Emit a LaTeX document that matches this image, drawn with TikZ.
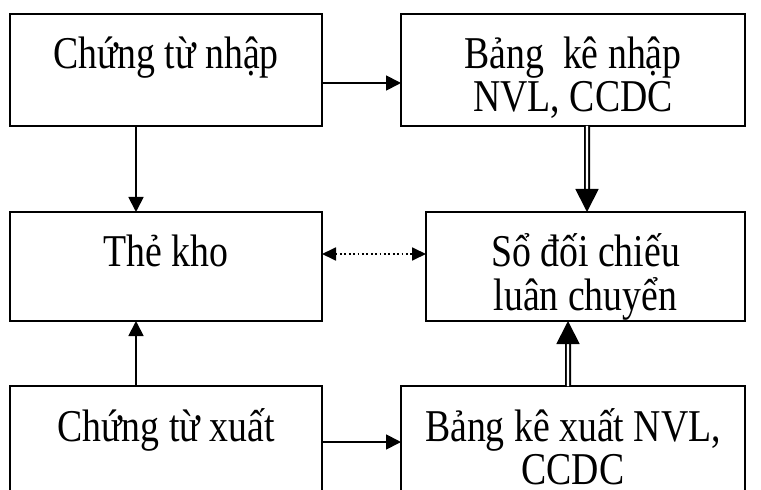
\documentclass[tikz,border=0pt]{standalone}
\usepackage{fontspec}
\setmainfont{Liberation Serif}[FakeStretch=0.83]
\usetikzlibrary{arrows.meta}
% box contents: width, height, top-aligned centred text
\newcommand\boxbody[3]{\parbox[c][#2][t]{#1}{\centering\rule{0pt}{55bp}#3}}
\begin{document}
\begin{tikzpicture}[x=1bp,y=-1bp,
  docbox/.style={draw, line width=1.5bp, inner sep=0pt, outer sep=0pt,
    font=\fontsize{45.5bp}{43bp}\selectfont},
  flow/.style={line width=1.8bp, -{Triangle[length=15bp,width=15bp]}},
  twin/.style={double, double distance=2.4bp, line width=1.8bp,
    -{Triangle[length=23bp,width=23bp]}},
  dotflow/.style={line width=1.8bp, dash pattern=on 1.8bp off 2.6bp,
    {Triangle[length=14bp,width=13bp]}-{Triangle[length=14bp,width=13bp]}}]
\useasboundingbox (0,0) rectangle (761,490);
\clip (0,0) rectangle (761,490);

% document boxes
\node[docbox] (nhap)   at (166,70)    {\boxbody{312bp}{112bp}{Chứng từ nhập}};
\node[docbox] (bknhap) at (573,70)    {\boxbody{344bp}{112bp}{Bảng~ kê nhập\\NVL, CCDC}};
\node[docbox] (kho)    at (166,266.5) {\boxbody{312bp}{109bp}{Thẻ kho}};
\node[docbox] (sodoi)  at (585.5,266.5) {\boxbody{319bp}{109bp}{Sổ đối chiếu\\luân chuyển}};
\node[docbox] (xuat)   at (166,442)   {\boxbody{312bp}{112bp}{Chứng từ xuất}};
\node[docbox] (bkxuat) at (573,442)   {\boxbody{344bp}{112bp}{Bảng kê xuất NVL,\\CCDC}};

% connectors
\draw[flow] ([yshift=-13bp]nhap.east) -- ([yshift=-13bp]bknhap.west);
\draw[flow] ([xshift=-30bp]nhap.south) -- ([xshift=-30bp]kho.north);
\draw[flow] ([xshift=-30bp]xuat.north) -- ([xshift=-30bp]kho.south);
\draw[flow] (xuat.east) -- (bkxuat.west);
\draw[twin] ([xshift=14bp]bknhap.south) -- ([xshift=1.5bp]sodoi.north);
\draw[twin] ([xshift=-5bp]bkxuat.north) -- ([xshift=-17.5bp]sodoi.south);
\draw[dotflow] ([yshift=12.5bp]kho.east) -- ([yshift=12.5bp]sodoi.west);
\end{tikzpicture}
\end{document}
